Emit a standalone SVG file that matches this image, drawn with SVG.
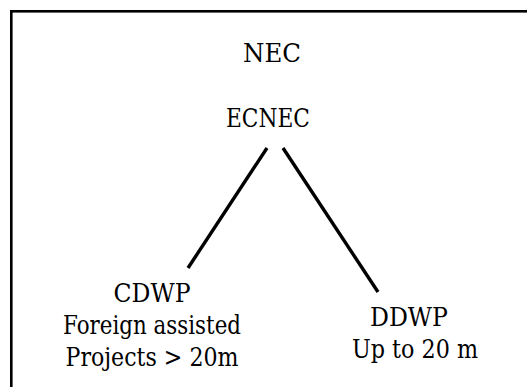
<svg xmlns="http://www.w3.org/2000/svg" width="527" height="387" viewBox="0 0 527 387">
<style>
.t{font-size:26px;fill:#000;text-anchor:middle}
.c{stroke:#000;stroke-width:3.4;fill:none}
</style>
<rect x="0" y="0" width="527" height="387" fill="#fff"/>
<rect x="11.3" y="11.3" width="600" height="500" fill="none" stroke="#000" stroke-width="2.6"/>
<g id="connectors">
<line class="c" x1="267" y1="148" x2="188" y2="268"/>
<line class="c" x1="283" y1="148" x2="378" y2="292"/>
</g>
<g font-family="'DejaVu Serif', serif">
<g id="nec"><text class="t" x="272" y="62" textLength="58" lengthAdjust="spacingAndGlyphs">NEC</text></g>
<g id="ecnec"><text class="t" x="268" y="127" textLength="84" lengthAdjust="spacingAndGlyphs">ECNEC</text></g>
<g id="cdwp">
<text class="t" x="152" y="302" textLength="77" lengthAdjust="spacingAndGlyphs">CDWP</text>
<text class="t" x="152" y="334" textLength="178" lengthAdjust="spacingAndGlyphs">Foreign assisted</text>
<text class="t" x="152" y="366" textLength="173" lengthAdjust="spacingAndGlyphs">Projects &gt; 20m</text>
</g>
<g id="ddwp">
<text class="t" x="409" y="326" textLength="78" lengthAdjust="spacingAndGlyphs">DDWP</text>
<text class="t" x="415" y="358" textLength="126" lengthAdjust="spacingAndGlyphs">Up to 20 m</text>
</g>
</g>
</svg>
